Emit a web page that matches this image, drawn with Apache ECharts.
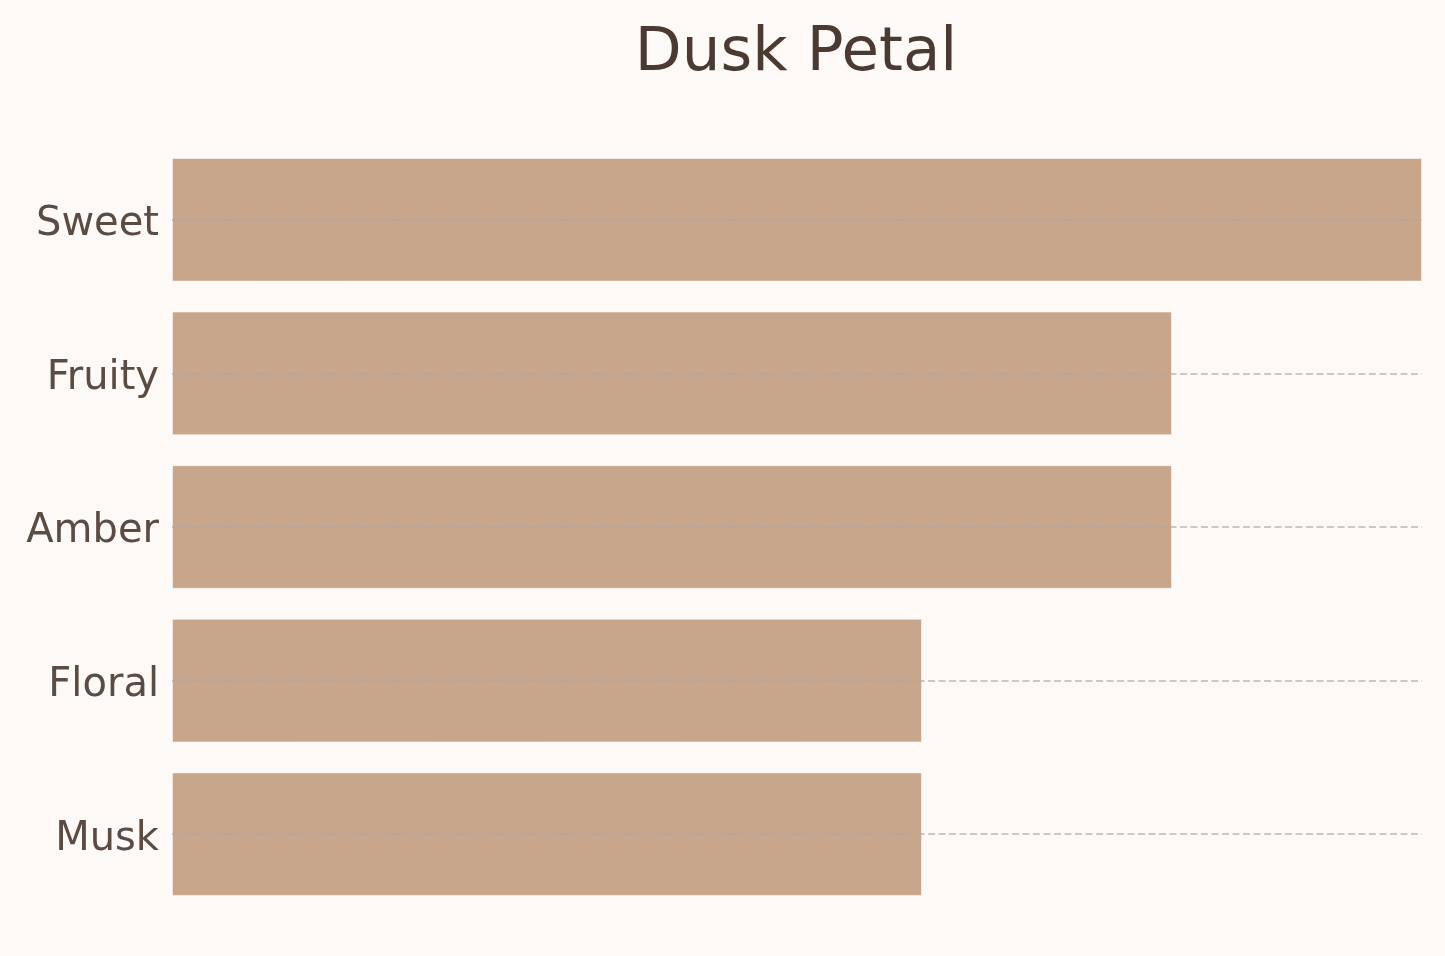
<!DOCTYPE html>
<html>
<head>
<meta charset="utf-8">
<script src="https://cdn.jsdelivr.net/npm/echarts@6/dist/echarts.min.js"></script>
<style>
html,body{margin:0;padding:0;background:#fcf9f6;}
#chart{width:1445px;height:956px;}
</style>
</head>
<body>
<div id="chart"></div>
<script>
const categories = ['Sweet', 'Fruity', 'Amber', 'Floral', 'Musk'];
const values = [5, 4, 4, 3, 3];
const chartTitle = 'Dusk Petal';

const chart = echarts.init(document.getElementById('chart'));
chart.setOption({
  backgroundColor: '#fcf9f6',
  animation: false,
  title: {
    text: chartTitle,
    left: 791,
    top: 19,
    textAlign: 'center',
    textStyle: {
      fontFamily: 'DejaVu Sans',
      fontSize: 61,
      fontWeight: 'normal',
      color: '#4a3a32'
    }
  },
  grid: { left: 172, right: 23, top: 143, bottom: 45, containLabel: false },
  xAxis: {
    type: 'value',
    min: 0,
    max: 5,
    show: false,
    splitLine: { show: false }
  },
  yAxis: {
    type: 'category',
    data: categories,
    inverse: true,
    axisLine: { show: false },
    axisTick: { show: false },
    splitLine: { show: false },
    axisLabel: {
      margin: 13,
      formatter: '{a|{value}}',
      rich: {
        a: {
          padding: [10, 0, 0, 0],
          fontFamily: 'DejaVu Sans',
          fontSize: 40,
          color: '#5a4b43'
        }
      }
    }
  },
  series: [{
    type: 'bar',
    data: values,
    barCategoryGap: '19.5%',
    itemStyle: {
      color: '#c8a68b',
      borderColor: 'rgba(255,255,255,0.5)',
      borderWidth: 1
    },
    markLine: {
      silent: true,
      symbol: 'none',
      label: { show: false },
      lineStyle: {
        color: 'rgba(168,168,168,0.6)',
        type: [7, 3.5],
        width: 2
      },
      data: categories.map(c => ({ yAxis: c }))
    }
  }]
});
</script>
</body>
</html>
